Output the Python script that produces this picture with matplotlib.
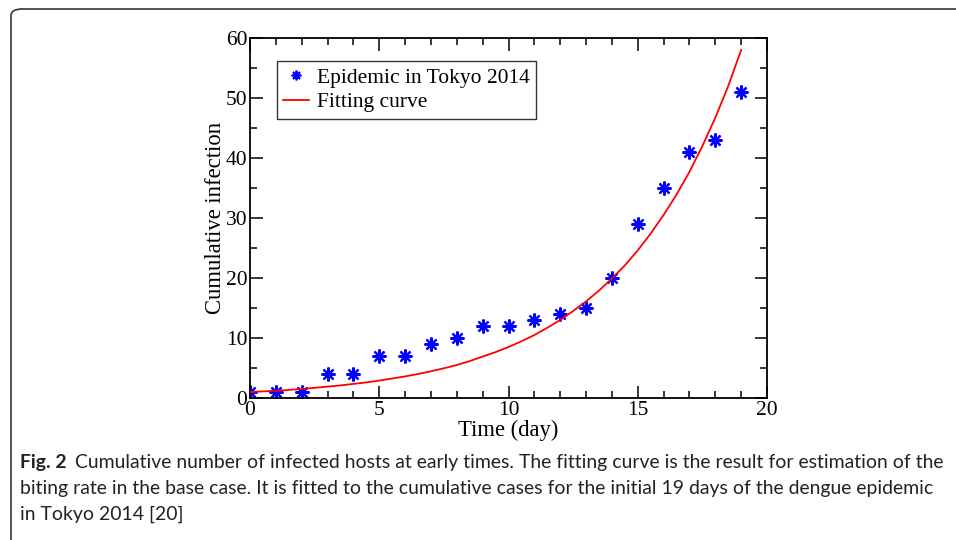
"""Cumulative infection in Tokyo 2014 with the fitting curve"""

import matplotlib
matplotlib.use('Agg')
import matplotlib.pyplot as plt
from matplotlib.patches import FancyBboxPatch

days = list(range(0, 20))
cases = [1, 1, 1, 4, 4, 7, 7, 9, 10, 12, 12, 13, 14, 15, 20, 29, 35, 41, 43, 51]

# fitting curve every half day
fit_t = [0, 0.5, 1, 1.5, 2, 2.5, 3, 3.5, 4, 4.5, 5, 5.5, 6, 6.5, 7, 7.5, 8, 8.5, 9, 9.5,
         10, 10.5, 11, 11.5, 12, 12.5, 13, 13.5, 14, 14.5, 15, 15.5, 16, 16.5, 17, 17.5,
         18, 18.5, 19]
fit_y = [1.0, 1.1, 1.2, 1.35, 1.5, 1.7, 1.9, 2.1, 2.35, 2.6, 2.9, 3.25, 3.6, 4.0, 4.45,
         4.95, 5.5, 6.15, 6.9, 7.65, 8.5, 9.45, 10.5, 11.7, 13.0, 14.5, 16.1, 17.9, 19.9,
         22.1, 24.6, 27.4, 30.5, 33.9, 37.7, 42.0, 46.7, 52.0, 58.0]

caption_bold = 'Fig. 2'
caption_lines = ['Cumulative number of infected hosts at early times. The fitting curve is the result for estimation of the',
                 'biting rate in the base case. It is fitted to the cumulative cases for the initial 19 days of the dengue epidemic',
                 'in Tokyo 2014 [20]']

serif = 'Liberation Serif'
fs = 15.5
lfs = 16.3

fig = plt.figure(figsize=(9.56, 5.4), dpi=100)

# frame round the figure, open at right and bottom
frame = FancyBboxPatch((11 / 956., -0.2), 1.1, 0.2 + (540 - 9) / 540.,
                       boxstyle='round,pad=0,rounding_size=0.012',
                       transform=fig.transFigure, fill=False, ec='#333333', lw=1.2)
fig.patches.append(frame)

ax = fig.add_axes([250 / 956., 1 - 398 / 540., 517 / 956., 360 / 540.])
ax.plot(days, cases, ls='none', marker=(8, 2, 0), ms=10, mew=1.6, color='#0000ff',
        label='Epidemic in Tokyo 2014', zorder=2)
ax.plot(fit_t, fit_y, color='#ff0000', lw=1.3, label='Fitting curve', zorder=3)

ax.set_xlim(0, 20)
ax.set_ylim(0, 60)
ax.set_xticks(range(0, 21, 5))
ax.set_xticks(range(0, 21), minor=True)
ax.set_yticks(range(0, 61, 10))
ax.set_yticks(range(0, 61, 5), minor=True)
ax.tick_params(which='both', direction='in', top=True, right=True, width=1.1)
ax.tick_params(which='major', length=9, labelsize=fs, pad=2)
ax.tick_params(which='minor', length=5)
for s in ax.spines.values():
    s.set_linewidth(1.3)
for lab in ax.get_xticklabels() + ax.get_yticklabels():
    lab.set_family(serif)

ax.set_xlabel('Time (day)', family=serif, fontsize=lfs, labelpad=0)
ax.set_ylabel('Cumulative infection', family=serif, fontsize=lfs, labelpad=0)

leg = ax.legend(loc='upper left', bbox_to_anchor=(0.052, 0.935), prop={'family': serif, 'size': fs},
                frameon=True, fancybox=False, edgecolor='black', borderpad=0.3,
                handlelength=1.2, handletextpad=0.35, labelspacing=0.2, borderaxespad=0)
leg.get_frame().set_linewidth(1.0)
for h in leg.get_lines():
    if h.get_marker() not in (None, 'None', ''):
        h.set_markersize(7)
        h.set_markeredgewidth(1.3)

# caption, font size chosen so the first line spans the same width as the reference
cap_font = 'Lato'
cap_color = '#222222'
cap_size = 13.0
x0 = 20 / 956.
fig.canvas.draw()
r = fig.canvas.get_renderer()
probe = fig.text(0, 0, caption_bold + '  ' + caption_lines[0], fontsize=cap_size, family=cap_font)
w = probe.get_window_extent(r).width
probe.remove()
cap_size = cap_size * 920 / w

t = fig.text(x0, 1 - 468 / 540., caption_bold, fontsize=cap_size, fontweight='bold',
             family=cap_font, color=cap_color, va='baseline')
bb = t.get_window_extent(r)
fig.text((bb.x1 + 8) / 956., 1 - 468 / 540., caption_lines[0], fontsize=cap_size,
         family=cap_font, color=cap_color, va='baseline')
fig.text(x0, 1 - 494 / 540., caption_lines[1], fontsize=cap_size,
         family=cap_font, color=cap_color, va='baseline')
fig.text(x0, 1 - 520 / 540., caption_lines[2], fontsize=cap_size,
         family=cap_font, color=cap_color, va='baseline')

fig.savefig('out.png', dpi=100)
